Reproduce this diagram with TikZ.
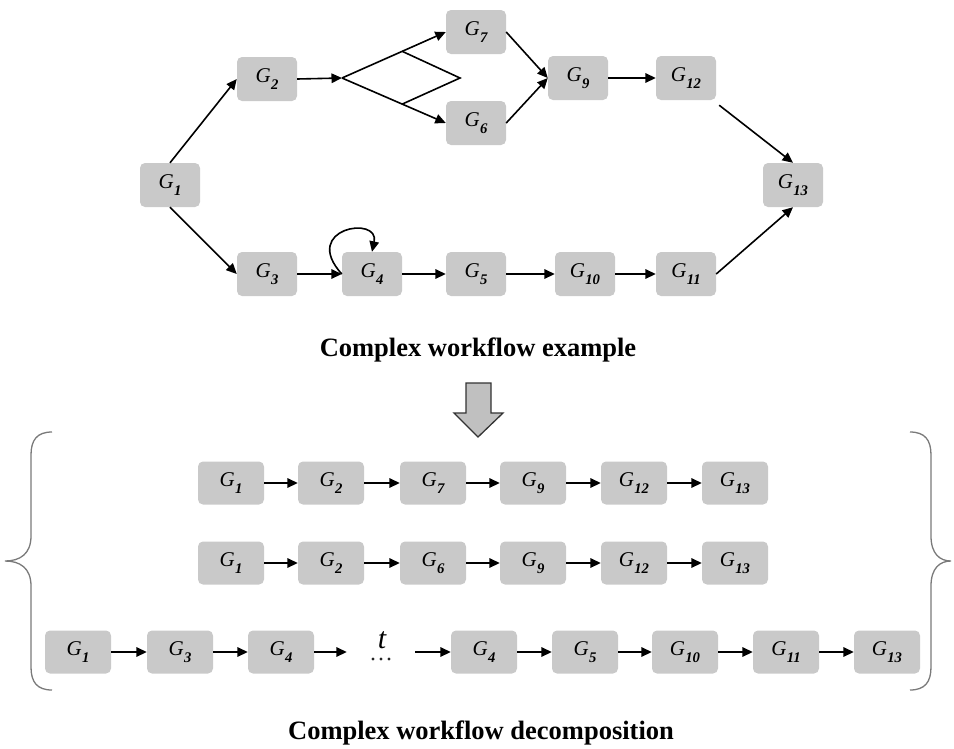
\documentclass[tikz,border=0pt]{standalone}
\usepackage{fontspec}
\setmainfont{Liberation Serif}
\usetikzlibrary{arrows.meta}
\definecolor{boxgray}{HTML}{C9C9C9}
\definecolor{bracegray}{HTML}{7A7A7A}
\definecolor{bigarrow}{HTML}{C0C0C0}
\newcommand\gl[1]{\textit{G}\kern0.3pt\raisebox{-0.36em}{\scalebox{0.7}{\bfseries\itshape #1}}}
\tikzset{
  gbox/.style={fill=boxgray, rounded corners=5pt, inner sep=0pt, minimum width=60pt, minimum height=44pt, font=\fontsize{21}{25}\selectfont},
  rbox/.style={gbox, minimum width=66pt, minimum height=43pt},
  conn/.style={line width=1.6pt, -{Triangle[length=10.5pt,width=9.5pt]}},
  plain/.style={line width=1.6pt},
  title/.style={font=\fontsize{26.5}{30}\selectfont\bfseries},
  bracestyle/.style={draw=bracegray, line width=1.3pt},
  dotmark/.style={fill=black!85},
}
\begin{document}
\begin{tikzpicture}[x=1pt,y=-1pt]
\useasboundingbox (0,0) rectangle (954,748);
% ---------- top graph ----------
\node[gbox] (G1) at (170,185) {\gl{1}};
\node[gbox] (G2) at (267,79) {\gl{2}};
\node[gbox] (G7) at (476,32) {\gl{7}};
\node[gbox] (G6) at (476,123) {\gl{6}};
\node[gbox] (G9) at (578,78) {\gl{9}};
\node[gbox] (G12) at (686,78) {\gl{12}};
\node[gbox] (G13) at (793,185) {\gl{13}};
\node[gbox] (G3) at (267,274) {\gl{3}};
\node[gbox] (G4) at (372,274) {\gl{4}};
\node[gbox] (G5) at (476,274) {\gl{5}};
\node[gbox] (G10) at (585,274) {\gl{10}};
\node[gbox] (G11) at (686,274) {\gl{11}};

\coordinate (dl) at (342,78);
\coordinate (dr) at (460,78);
\draw[conn] (G1.north) -- (G2.west);
\draw[conn] (G1.south) -- (G3.west);
\draw[conn] (G2.east) -- (dl);
\draw[conn] (dl) -- (G7.west) coordinate[pos=0.58] (du);
\draw[conn] (dl) -- (G6.west) coordinate[pos=0.58] (dd);
\draw[plain, line join=miter] (du) -- (dr) -- (dd);
\draw[conn] (G7.east) -- (G9.west);
\draw[conn] (G6.east) -- (G9.west);
\draw[conn] (G9) -- (G12);
\draw[conn] ([xshift=3pt,yshift=-5pt]G12.south east) -- (G13.north);
\draw[conn] (G11.east) -- (G13.south);
\draw[conn] (G3) -- (G4);
\draw[conn] (G4.west) .. controls (300,228) and (380,215) .. (G4.north);
\draw[conn] (G4) -- (G5);
\draw[conn] (G5) -- (G10);
\draw[conn] (G10) -- (G11);

\node[title] (t1) at (478,350) {Complex workflow example};

% ---------- big arrow ----------
\draw[fill=bigarrow, draw=black!80, line width=1.3pt, line join=miter]
  (466,383) -- (491,383) -- (491,413) -- (503,413) -- (478,437) -- (454,413) -- (466,413) -- cycle;

% ---------- row 1 ----------
\node[rbox] (a1) at (231,483) {\gl{1}};
\node[rbox] (a2) at (331,483) {\gl{2}};
\node[rbox] (a3) at (433,483) {\gl{7}};
\node[rbox] (a4) at (533,483) {\gl{9}};
\node[rbox] (a5) at (634,483) {\gl{12}};
\node[rbox] (a6) at (735,483) {\gl{13}};
\foreach \i/\j in {a1/a2,a2/a3,a3/a4,a4/a5,a5/a6} \draw[conn] (\i) -- (\j);

% ---------- row 2 ----------
\node[rbox] (b1) at (231,563) {\gl{1}};
\node[rbox] (b2) at (331,563) {\gl{2}};
\node[rbox] (b3) at (433,563) {\gl{6}};
\node[rbox] (b4) at (533,563) {\gl{9}};
\node[rbox] (b5) at (634,563) {\gl{12}};
\node[rbox] (b6) at (735,563) {\gl{13}};
\foreach \i/\j in {b1/b2,b2/b3,b3/b4,b4/b5,b5/b6} \draw[conn] (\i) -- (\j);

% ---------- row 3 ----------
\node[inner sep=0pt, minimum width=68pt, minimum height=43pt] (cd) at (381,652) {};
\node[font=\fontsize{30}{34}\selectfont\itshape, inner sep=0pt, anchor=base] (ct) at (382,648) {t};
\foreach \dx in {-8,0,8} \fill[dotmark] ([xshift=\dx pt]cd.center) ++(0,7) circle (1.6pt);
\node[rbox] (c1) at (78,652) {\gl{1}};
\node[rbox] (c2) at (180,652) {\gl{3}};
\node[rbox] (c3) at (281,652) {\gl{4}};
\node[rbox] (c4) at (484,652) {\gl{4}};
\node[rbox] (c5) at (585,652) {\gl{5}};
\node[rbox] (c6) at (685,652) {\gl{10}};
\node[rbox] (c7) at (786,652) {\gl{11}};
\node[rbox] (c8) at (887,652) {\gl{13}};
\foreach \i/\j in {c1/c2,c2/c3,c3/cd,cd/c4,c4/c5,c5/c6,c6/c7,c7/c8} \draw[conn] (\i) -- (\j);

% ---------- braces ----------
\draw[bracestyle] (52,432) .. controls (37,432) and (31,440) .. (31,455) -- (31,536)
  .. controls (31,554) and (20,561) .. (5,561)
  .. controls (20,561) and (31,568) .. (31,586) -- (31,667)
  .. controls (31,682) and (37,690) .. (52,690);
\draw[bracestyle] (910,432) .. controls (925,432) and (931,440) .. (931,455) -- (931,536)
  .. controls (931,554) and (940,561) .. (951,561)
  .. controls (940,561) and (931,568) .. (931,586) -- (931,667)
  .. controls (931,682) and (925,690) .. (910,690);

\node[title] (t2) at (481,733) {Complex workflow decomposition};
\end{tikzpicture}
\end{document}
